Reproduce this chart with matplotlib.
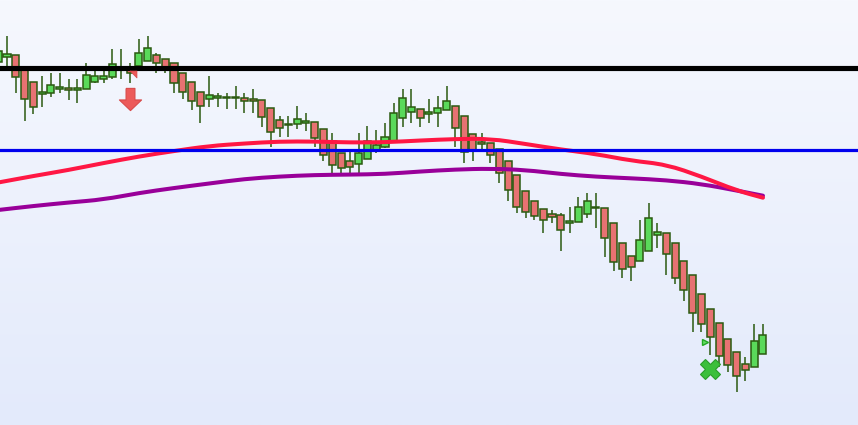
import numpy as np
import matplotlib
matplotlib.use("Agg")
import matplotlib.pyplot as plt
from matplotlib.path import Path
from matplotlib.patches import PathPatch
from matplotlib.colors import LinearSegmentedColormap

# candle data (price in chart units)
opens = [363.3, 368.3, 370, 355.7, 342.7, 330.7, 331.7, 335.7, 336.7, 335.4,
         335.7, 342.7, 345.7, 347.7, 356, 355.7, 359, 363.7, 369.7, 365.7,
         361.7, 351.7, 342.7, 332.7, 325.7, 327.2, 326.7, 326.7, 326.7, 325.7,
         324.7, 316.7, 304.7, 300, 300.7, 302.5, 302.7, 295.7, 284.3, 271.7,
         263.7, 260.7, 265.7, 275, 278.3, 283.3, 306.7, 312.7, 315.7, 310.7,
         311.7, 315, 318.7, 309, 290.7, 282.7, 281.7, 275.7, 263.7, 249.7,
         233.7, 223.7, 215.7, 210.7, 209.7, 201.7, 202.7, 210.7, 216.8, 216.7,
         201.7, 181.7, 168.7, 163.7, 173.7, 189.7, 191.7, 181.7, 163.7, 149.7,
         130.7, 115.7, 101.7, 85.7, 72.7, 60.7, 57.7, 70.7]
highs = [385, 389, 370, 359, 342.7, 349, 352.3, 352.3, 345.7, 345.7,
         361.7, 354.3, 354.3, 375.7, 375.7, 361.7, 385.7, 389, 371.7, 365.7,
         361.7, 351.7, 342.7, 332.7, 349, 331.7, 331.7, 339, 331.7, 335.7,
         324.7, 316.7, 309, 309, 319, 311.7, 302.7, 295.7, 291.7, 271.7,
         273.3, 292.3, 299, 295, 302.3, 321.7, 335.7, 335.7, 315.7, 325.7,
         329, 339, 318.7, 309, 290.7, 291.7, 281.7, 275.7, 263.7, 249.7,
         233.7, 223.7, 215.7, 215, 211.7, 218, 228, 232, 232, 216.7,
         201.7, 181.7, 168.7, 205, 222, 201.7, 191.7, 181.7, 163.7, 149.7,
         130.7, 115.7, 101.7, 85.7, 72.7, 67.7, 100.7, 100.7]
lows = [361, 359, 331.7, 304.3, 311, 318.3, 328.3, 331.7, 325, 321.7,
        335.7, 341.7, 341.7, 345.7, 345.7, 341.7, 356.7, 363.7, 351.7, 351.7,
        331.7, 325.7, 315, 301.7, 318.3, 318.3, 315.7, 315.7, 311.7, 311.7,
        298.3, 278.3, 288.3, 288.3, 295.7, 294.3, 278.3, 264.3, 251, 250,
        251, 251.7, 265.7, 271.7, 276.7, 283.3, 298.3, 301.7, 298.3, 301.7,
        298.3, 315, 278.3, 261.7, 264.3, 275, 261.7, 241.7, 224.5, 211.7,
        207.3, 204.7, 191.7, 201.7, 174.3, 191.7, 202.7, 207.3, 197.3, 167.7,
        154.3, 147.3, 144.3, 163.7, 173.7, 177.5, 150.5, 140.7, 124.3, 93.3,
        93.3, 70.3, 58.3, 53.3, 33.3, 43.7, 57.7, 70.7]
closes = [374.3, 371, 347.7, 325.7, 318.3, 333, 339.7, 337.7, 334.7, 336,
          349.7, 348.7, 348.7, 360.7, 358, 351.7, 371.7, 376.7, 361.7, 358.3,
          341.7, 332.7, 323.7, 318.7, 329.7, 328, 327.7, 327.7, 323.7, 323.7,
          308.3, 292.7, 296.7, 301, 305.7, 303.5, 287.3, 269.7, 259.7, 256.7,
          257.7, 271.7, 284.3, 280, 288.3, 311.7, 326.7, 318.3, 306.7, 312.7,
          316.7, 323.7, 297.3, 273, 275, 280.7, 269.7, 251.7, 234.7, 217.7,
          212.7, 208.7, 204.7, 207.7, 194.7, 204, 217.7, 223.7, 217.8, 186.7,
          162.7, 155.7, 157.7, 184.7, 206.7, 192.7, 170.7, 146.7, 134.7, 111.7,
          100.7, 87.7, 68.7, 59.7, 48.7, 54.7, 83.7, 89.7]

# moving averages sampled at candle indices
ma_idx = [0, 4, 8, 12, 16, 20, 24, 28, 32, 36, 40, 44, 48, 52, 56, 60,
          64, 68, 72, 76, 80, 84, 87]
ma_fast = [242.5, 249, 255, 262, 268.5, 274, 279, 281.5, 283.5, 283.5, 282.5,
           282.7, 284.5, 286, 286.3, 281, 275.5, 271, 264.3, 260.5, 248.5,
           234.5, 227.3]
ma_slow = [215, 219, 222.5, 225.5, 232, 237, 241.5, 246, 248.5, 250, 250.4,
           251, 253.5, 255.5, 256.4, 255, 251, 248.3, 246.7, 244.8, 241,
           234.5, 229.3]

level_black = 357
level_blue = 275

# signal markers
sell_arrow = (15, 326)
sell_flag = (15.3, 351)
buy_tri = (80.4, 83.3)
buy_x = (81, 55.7)


def smooth_line(ax, xs, ys, **kw):
    # quadratic bezier through midpoints, so the curve has no corners
    pts = np.column_stack([xs, ys]).astype(float)
    verts = [pts[0], (pts[0] + pts[1]) / 2]
    codes = [Path.MOVETO, Path.LINETO]
    for i in range(1, len(pts) - 1):
        verts += [pts[i], (pts[i] + pts[i + 1]) / 2]
        codes += [Path.CURVE3, Path.CURVE3]
    verts.append(pts[-1])
    codes.append(Path.LINETO)
    ax.add_patch(PathPatch(Path(verts, codes), fill=False, **kw))


fig = plt.figure(figsize=(8.58, 4.25), dpi=100)
ax = fig.add_axes([0, 0, 1, 1])
ax.set_xlim(0.204, 97.81)
ax.set_ylim(0, 425)
ax.axis("off")

# background gradient
cmap = LinearSegmentedColormap.from_list("bg", ["#e3eafb", "#f6f8fe"])
ax.imshow(np.linspace(0, 1, 256).reshape(-1, 1), cmap=cmap, origin="lower",
          extent=[0, 1, 0, 1], transform=ax.transAxes, aspect="auto", zorder=0)

x = np.arange(len(opens))
o = np.array(opens)
c = np.array(closes)

wick_col = "#2b5a10"
ax.vlines(x, lows, highs, color=wick_col, lw=1.1, zorder=3)
up = c >= o
bottom = np.minimum(o, c)
height = np.maximum(np.abs(c - o), 1.5)
ax.bar(x, height, bottom=bottom, width=0.8,
       color=np.where(up, "#5ad95a", "#e77272"),
       edgecolor=wick_col, linewidth=1.1, zorder=4)

# moving averages sit on top of the candles
smooth_line(ax, ma_idx, ma_slow, edgecolor="#990099", lw=2.9, zorder=5,
            capstyle="round")
smooth_line(ax, ma_idx, ma_fast, edgecolor="#ff1744", lw=2.9, zorder=5,
            capstyle="round")

ax.axhline(level_black, color="black", lw=3.7, zorder=6)
ax.axhline(level_blue, color="#0000ee", lw=2.3, zorder=6)

arrow = Path([(-0.2, 0.5), (0.2, 0.5), (0.2, -0.02), (0.5, -0.02), (0, -0.5),
              (-0.5, -0.02), (-0.2, -0.02), (-0.2, 0.5)])
ax.plot(*sell_arrow, marker=arrow, ms=16, mfc="#ec5a5a", mec="#d84a4a",
        mew=0.8, zorder=7)
flag = Path([(-0.5, 0.5), (0.5, -0.5), (0.5, 0.5), (-0.5, 0.5)])
ax.plot(*sell_flag, marker=flag, ms=5, mfc="#ec5a5a", mec="#d84a4a",
        mew=0.5, zorder=7)
ax.plot(*buy_tri, marker=">", ms=5, mfc="#66dd66", mec="#22aa22", mew=1,
        zorder=7)
ax.plot(*buy_x, marker="X", ms=14, mfc="#3cbf3c", mec="#2a9e2a", mew=0.8,
        zorder=7)

fig.savefig("out.png", dpi=100)
